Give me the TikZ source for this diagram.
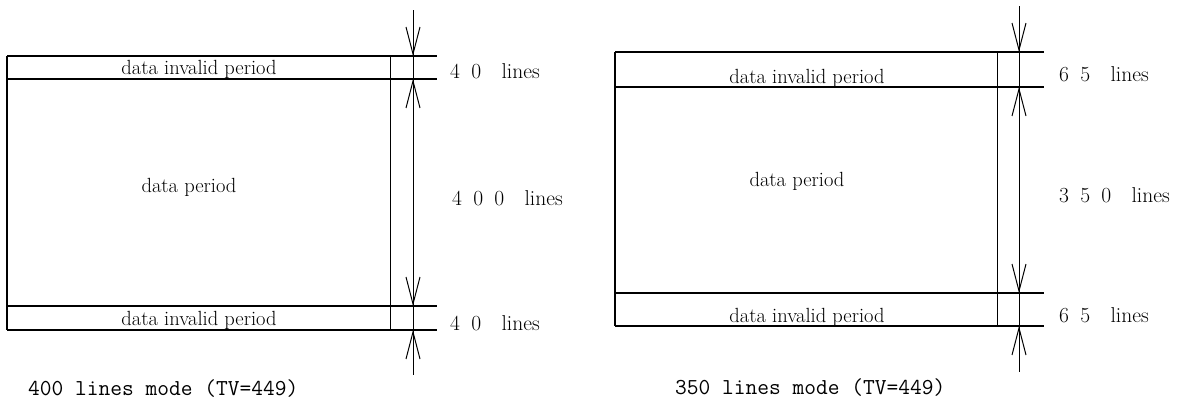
\documentclass[tikz,border=0pt]{standalone}
\usetikzlibrary{arrows.meta}
\begin{document}
\begin{tikzpicture}[x=1pt,y=-1pt,
  frame/.style={line width=1.4pt},
  inner/.style={line width=1pt},
  dimline/.style={line width=1pt},
  barb/.style={line width=1pt,-{Straight Barb[length=27pt,width=14pt,line width=1pt]}},
  lbl/.style={inner sep=0pt,anchor=base,font=\fontsize{20.5pt}{24pt}\selectfont},
  dim/.style={inner sep=0pt,anchor=base west,font=\fontsize{21.5pt}{25pt}\selectfont},
  mode/.style={inner sep=0pt,anchor=base west,font=\fontsize{22.8pt}{26pt}\selectfont\ttfamily}]
\useasboundingbox (0,0) rectangle (1185,402);
\newcommand{\gA}{\hspace{0.52em}}
\newcommand{\gB}{\hspace{0.95em}}
% ---------- left diagram ----------
\coordinate (La) at (7,56);   \coordinate (Lae) at (437,56);
\coordinate (Lb) at (7,79);   \coordinate (Lbe) at (437,79);
\coordinate (Lc) at (7,306);  \coordinate (Lce) at (437,306);
\coordinate (Ld) at (7,330);  \coordinate (Lde) at (437,330);
\coordinate (Lvi1) at (390,56); \coordinate (Lvi2) at (390,330);
\draw[frame] (La) -- (Lae);
\draw[frame] (Lb) -- (Lbe);
\draw[frame] (Lc) -- (Lce);
\draw[frame] (Ld) -- (Lde);
\draw[frame] (La) -- (Ld);
\draw[inner] (Lvi1) -- (Lvi2);
\coordinate (Ltop) at (413,10); \coordinate (Lbot) at (413,375);
\draw[dimline] (Ltop) -- (Lbot);
\coordinate (Lt1) at (413,28);  \coordinate (Lp1) at (413,56);
\coordinate (Lt2) at (413,107); \coordinate (Lp2) at (413,79);
\coordinate (Lt3) at (413,278); \coordinate (Lp3) at (413,306);
\coordinate (Lt4) at (413,358); \coordinate (Lp4) at (413,330);
\draw[barb] (Lt1) -- (Lp1);
\draw[barb] (Lt2) -- (Lp2);
\draw[barb] (Lt3) -- (Lp3);
\draw[barb] (Lt4) -- (Lp4);
\node[lbl] (Linv1) at (199,74) {data invalid period};
\node[lbl] (Ldata) at (189,192) {data period};
\node[lbl] (Linv2) at (199,325) {data invalid period};
\node[dim] (Ln1) at (450,78) {4\gA0\gB lines};
\node[dim] (Ln2) at (452,205) {4\gA0\gA0\gB lines};
\node[dim] (Ln3) at (450,330) {4\gA0\gB lines};
\node[mode] (Lmode) at (28,395) {400 lines mode (TV=449)};
% ---------- right diagram ----------
\coordinate (Ra) at (615,52);   \coordinate (Rae) at (1044,52);
\coordinate (Rb) at (615,87);   \coordinate (Rbe) at (1044,87);
\coordinate (Rc) at (615,293);  \coordinate (Rce) at (1044,293);
\coordinate (Rd) at (615,326);  \coordinate (Rde) at (1044,326);
\coordinate (Rvi1) at (997,52); \coordinate (Rvi2) at (997,326);
\draw[frame] (Ra) -- (Rae);
\draw[frame] (Rb) -- (Rbe);
\draw[frame] (Rc) -- (Rce);
\draw[frame] (Rd) -- (Rde);
\draw[frame] (Ra) -- (Rd);
\draw[inner] (Rvi1) -- (Rvi2);
\coordinate (Rtop) at (1019,6); \coordinate (Rbot) at (1019,372);
\draw[dimline] (Rtop) -- (Rbot);
\coordinate (Rt1) at (1019,25);  \coordinate (Rp1) at (1019,52);
\coordinate (Rt2) at (1019,114); \coordinate (Rp2) at (1019,87);
\coordinate (Rt3) at (1019,266); \coordinate (Rp3) at (1019,293);
\coordinate (Rt4) at (1019,353); \coordinate (Rp4) at (1019,326);
\draw[barb] (Rt1) -- (Rp1);
\draw[barb] (Rt2) -- (Rp2);
\draw[barb] (Rt3) -- (Rp3);
\draw[barb] (Rt4) -- (Rp4);
\node[lbl] (Rinv1) at (807,83) {data invalid period};
\node[lbl] (Rdata) at (797,186) {data period};
\node[lbl] (Rinv2) at (807,322) {data invalid period};
\node[dim] (Rn1) at (1059,81) {6\gA5\gB lines};
\node[dim] (Rn2) at (1059,202) {3\gA5\gA0\gB lines};
\node[dim] (Rn3) at (1059,322) {6\gA5\gB lines};
\node[mode] (Rmode) at (675,394) {350 lines mode (TV=449)};
\end{tikzpicture}
\end{document}
